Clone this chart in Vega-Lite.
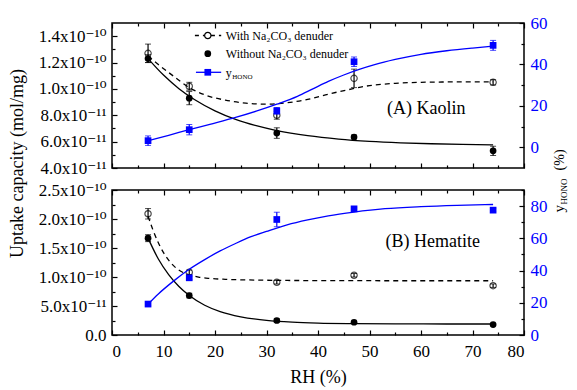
{
  "$schema": "https://vega.github.io/schema/vega-lite/v6.json",
  "padding": {"left": 7, "top": 13, "right": 0, "bottom": 0},
  "spacing": 22,
  "bounds": "flush",
  "config": {
    "font": "'Liberation Serif', 'DejaVu Serif', serif",
    "view": {"stroke": "black", "strokeWidth": 1.5},
    "axis": {"domain": false, "grid": false, "tickColor": "black", "tickWidth": 1.2, "labelColor": "black", "labelFont": "'Liberation Serif', 'DejaVu Serif', serif", "labelFontSize": 17, "titleFont": "'Liberation Serif', 'DejaVu Serif', serif", "titleFontWeight": "normal", "titleFontSize": 18, "titleColor": "black"},
    "text": {"font": "'Liberation Serif', 'DejaVu Serif', serif", "color": "black"}
  },
  "datasets": {
    "kpts": [
      {"rh": 7, "s": "with", "v": 1.27e-10, "lo": 1.20e-10, "hi": 1.34e-10},
      {"rh": 15, "s": "with", "v": 1.02e-10, "lo": 0.99e-10, "hi": 1.05e-10},
      {"rh": 32, "s": "with", "v": 8.0e-11, "lo": 7.7e-11, "hi": 8.3e-11},
      {"rh": 47, "s": "with", "v": 1.08e-10, "lo": 1.01e-10, "hi": 1.15e-10},
      {"rh": 74, "s": "with", "v": 1.05e-10, "lo": 1.03e-10, "hi": 1.07e-10},
      {"rh": 7, "s": "without", "v": 1.23e-10, "lo": 1.20e-10, "hi": 1.26e-10},
      {"rh": 15, "s": "without", "v": 9.3e-11, "lo": 8.8e-11, "hi": 9.8e-11},
      {"rh": 32, "s": "without", "v": 6.65e-11, "lo": 6.25e-11, "hi": 7.05e-11},
      {"rh": 47, "s": "without", "v": 6.35e-11, "lo": 6.2e-11, "hi": 6.5e-11},
      {"rh": 74, "s": "without", "v": 5.3e-11, "lo": 4.95e-11, "hi": 5.65e-11}
    ],
    "kyh": [
      {"rh": 7, "v": 3.2, "lo": 0.9, "hi": 5.5},
      {"rh": 15, "v": 8.5, "lo": 6.0, "hi": 11.0},
      {"rh": 32, "v": 17.6, "lo": 16.0, "hi": 19.2},
      {"rh": 47, "v": 41.3, "lo": 39.0, "hi": 43.6},
      {"rh": 74, "v": 49.2, "lo": 46.8, "hi": 51.6}
    ],
    "kcurve": [
      {"rh": 7, "s": "without", "v": 1.23e-10},
      {"rh": 10, "s": "without", "v": 1.105e-10},
      {"rh": 13, "s": "without", "v": 1.002e-10},
      {"rh": 16, "s": "without", "v": 9.2e-11},
      {"rh": 20, "s": "without", "v": 8.34e-11},
      {"rh": 24, "s": "without", "v": 7.69e-11},
      {"rh": 28, "s": "without", "v": 7.21e-11},
      {"rh": 32, "s": "without", "v": 6.84e-11},
      {"rh": 38, "s": "without", "v": 6.45e-11},
      {"rh": 44, "s": "without", "v": 6.19e-11},
      {"rh": 50, "s": "without", "v": 6.02e-11},
      {"rh": 56, "s": "without", "v": 5.91e-11},
      {"rh": 62, "s": "without", "v": 5.84e-11},
      {"rh": 68, "s": "without", "v": 5.79e-11},
      {"rh": 74, "s": "without", "v": 5.76e-11},
      {"rh": 7, "s": "with", "v": 1.25e-10},
      {"rh": 9, "s": "with", "v": 1.185e-10},
      {"rh": 12, "s": "with", "v": 1.095e-10},
      {"rh": 15, "s": "with", "v": 1.01e-10},
      {"rh": 18, "s": "with", "v": 9.55e-11},
      {"rh": 22, "s": "with", "v": 9.15e-11},
      {"rh": 26, "s": "with", "v": 8.92e-11},
      {"rh": 30, "s": "with", "v": 8.84e-11},
      {"rh": 34, "s": "with", "v": 8.95e-11},
      {"rh": 38, "s": "with", "v": 9.2e-11},
      {"rh": 42, "s": "with", "v": 9.6e-11},
      {"rh": 46, "s": "with", "v": 9.95e-11},
      {"rh": 50, "s": "with", "v": 1.025e-10},
      {"rh": 55, "s": "with", "v": 1.042e-10},
      {"rh": 60, "s": "with", "v": 1.05e-10},
      {"rh": 67, "s": "with", "v": 1.053e-10},
      {"rh": 74, "s": "with", "v": 1.053e-10}
    ],
    "kycurve": [
      {"rh": 7, "v": 3.2}, {"rh": 11, "v": 5.8}, {"rh": 15, "v": 8.5}, {"rh": 19, "v": 11.1},
      {"rh": 24, "v": 14.4}, {"rh": 28, "v": 17.4}, {"rh": 32, "v": 20.8}, {"rh": 36, "v": 24.6},
      {"rh": 39, "v": 28.2}, {"rh": 42, "v": 31.8}, {"rh": 45, "v": 34.9}, {"rh": 48, "v": 37.6},
      {"rh": 51, "v": 39.9}, {"rh": 55, "v": 42.4}, {"rh": 60, "v": 44.9}, {"rh": 65, "v": 46.6},
      {"rh": 70, "v": 47.9}, {"rh": 74, "v": 48.8}
    ],
    "hpts": [
      {"rh": 7, "s": "with", "v": 2.09e-10, "lo": 2.0e-10, "hi": 2.18e-10},
      {"rh": 15, "s": "with", "v": 1.08e-10, "lo": 1.04e-10, "hi": 1.12e-10},
      {"rh": 32, "s": "with", "v": 9.1e-11, "lo": 8.8e-11, "hi": 9.4e-11},
      {"rh": 47, "s": "with", "v": 1.03e-10, "lo": 1.0e-10, "hi": 1.06e-10},
      {"rh": 74, "s": "with", "v": 8.5e-11, "lo": 8.2e-11, "hi": 8.8e-11},
      {"rh": 7, "s": "without", "v": 1.67e-10, "lo": 1.61e-10, "hi": 1.73e-10},
      {"rh": 15, "s": "without", "v": 6.8e-11, "lo": 6.4e-11, "hi": 7.2e-11},
      {"rh": 32, "s": "without", "v": 2.5e-11, "lo": 2.2e-11, "hi": 2.8e-11},
      {"rh": 47, "s": "without", "v": 2.2e-11, "lo": 2.0e-11, "hi": 2.4e-11},
      {"rh": 74, "s": "without", "v": 1.8e-11, "lo": 1.6e-11, "hi": 2.0e-11}
    ],
    "hyh": [
      {"rh": 7, "v": 19.2, "lo": 18.4, "hi": 20.0},
      {"rh": 15, "v": 35.5, "lo": 34.5, "hi": 36.5},
      {"rh": 32, "v": 71.7, "lo": 67.2, "hi": 76.2},
      {"rh": 47, "v": 78.3, "lo": 77.3, "hi": 79.3},
      {"rh": 74, "v": 77.5, "lo": 76.5, "hi": 78.5}
    ],
    "hcurve": [
      {"rh": 7, "s": "without", "v": 1.67e-10},
      {"rh": 9, "s": "without", "v": 1.31e-10},
      {"rh": 11, "s": "without", "v": 1.04e-10},
      {"rh": 13, "s": "without", "v": 8.35e-11},
      {"rh": 15, "s": "without", "v": 6.8e-11},
      {"rh": 18, "s": "without", "v": 5.13e-11},
      {"rh": 21, "s": "without", "v": 4.03e-11},
      {"rh": 25, "s": "without", "v": 3.13e-11},
      {"rh": 30, "s": "without", "v": 2.52e-11},
      {"rh": 35, "s": "without", "v": 2.21e-11},
      {"rh": 40, "s": "without", "v": 2.05e-11},
      {"rh": 47, "s": "without", "v": 1.96e-11},
      {"rh": 55, "s": "without", "v": 1.92e-11},
      {"rh": 65, "s": "without", "v": 1.9e-11},
      {"rh": 74, "s": "without", "v": 1.9e-11},
      {"rh": 7, "s": "with", "v": 2.05e-10},
      {"rh": 8, "s": "with", "v": 1.8e-10},
      {"rh": 9, "s": "with", "v": 1.59e-10},
      {"rh": 10, "s": "with", "v": 1.42e-10},
      {"rh": 11, "s": "with", "v": 1.29e-10},
      {"rh": 12.5, "s": "with", "v": 1.15e-10},
      {"rh": 14, "s": "with", "v": 1.07e-10},
      {"rh": 15.5, "s": "with", "v": 1.025e-10},
      {"rh": 17, "s": "with", "v": 9.95e-11},
      {"rh": 19, "s": "with", "v": 9.75e-11},
      {"rh": 22, "s": "with", "v": 9.6e-11},
      {"rh": 26, "s": "with", "v": 9.5e-11},
      {"rh": 32, "s": "with", "v": 9.42e-11},
      {"rh": 40, "s": "with", "v": 9.38e-11},
      {"rh": 50, "s": "with", "v": 9.36e-11},
      {"rh": 62, "s": "with", "v": 9.35e-11},
      {"rh": 74, "s": "with", "v": 9.35e-11}
    ],
    "hycurve": [
      {"rh": 7, "v": 19.2}, {"rh": 9, "v": 25.5}, {"rh": 12, "v": 33.6}, {"rh": 15, "v": 40.8},
      {"rh": 18, "v": 46.8}, {"rh": 21, "v": 52.2}, {"rh": 24, "v": 56.8}, {"rh": 27, "v": 61.0},
      {"rh": 30, "v": 64.3}, {"rh": 34, "v": 68.4}, {"rh": 38, "v": 71.5}, {"rh": 42, "v": 74.0},
      {"rh": 47, "v": 76.3}, {"rh": 53, "v": 78.4}, {"rh": 60, "v": 79.7}, {"rh": 67, "v": 80.5},
      {"rh": 74, "v": 81.0}
    ]
  },
  "vconcat": [
    {
      "width": 412, "height": 145,
      "resolve": {"scale": {"y": "independent"}, "axis": {"x": "independent", "y": "independent"}},
      "layer": [
        {
          "resolve": {"axis": {"x": "independent", "y": "independent"}},
          "layer": [
            {
              "data": {"name": "kcurve"},
              "transform": [{"filter": "datum.s == 'with'"}],
              "mark": {"type": "line", "color": "black", "strokeWidth": 1.3, "strokeDash": [5, 4], "interpolate": "monotone"},
              "encoding": {
                "x": {"field": "rh", "type": "quantitative", "scale": {"domain": [0, 80], "nice": false},
                  "axis": {"orient": "bottom", "values": [0, 10, 20, 30, 40, 50, 60, 70, 80], "labels": false, "tickSize": -5, "title": null}},
                "y": {"field": "v", "type": "quantitative", "scale": {"domain": [4e-11, 1.5e-10], "nice": false, "zero": false},
                  "axis": {"orient": "left", "values": [4e-11, 6e-11, 8e-11, 1e-10, 1.2e-10, 1.4e-10], "tickSize": -5, "labelPadding": 11,
                    "labelExpr": "datum.value < 1e-12 ? '0.0' : (datum.value >= 9.9e-11 ? format(datum.value * 1e10, '.1f') + 'x10⁻¹⁰' : format(datum.value * 1e11, '.1f') + 'x10⁻¹¹')",
                    "title": "Uptake capacity (mol/mg)", "titleAngle": 270, "titleX": -90, "titleY": 140, "titleAlign": "center", "titleBaseline": "alphabetic"}}
              }
            },
            {
              "data": {"name": "kcurve"},
              "transform": [{"filter": "datum.s == 'without'"}],
              "mark": {"type": "line", "color": "black", "strokeWidth": 1.3, "interpolate": "monotone"},
              "encoding": {
                "x": {"field": "rh", "type": "quantitative", "scale": {"domain": [0, 80], "nice": false},
                  "axis": {"orient": "bottom", "values": [5, 15, 25, 35, 45, 55, 65, 75], "labels": false, "tickSize": -3, "title": null}},
                "y": {"field": "v", "type": "quantitative",
                  "axis": {"orient": "left", "values": [5e-11, 7e-11, 9e-11, 1.1e-10, 1.3e-10], "labels": false, "tickSize": -3, "title": null}}
              }
            },
            {
              "data": {"name": "kpts"},
              "mark": {"type": "errorbar", "color": "black", "ticks": {"size": 6, "strokeWidth": 1.2}, "rule": {"strokeWidth": 1.2}},
              "encoding": {
                "x": {"field": "rh", "type": "quantitative", "axis": null},
                "y": {"field": "lo", "type": "quantitative", "axis": null},
                "y2": {"field": "hi"}
              }
            },
            {
              "data": {"name": "kpts"},
              "transform": [{"filter": "datum.s == 'with'"}],
              "mark": {"type": "point", "shape": "circle", "filled": false, "color": "black", "strokeWidth": 1.2, "size": 40},
              "encoding": {
                "x": {"field": "rh", "type": "quantitative",
                  "axis": {"orient": "top", "values": [0, 10, 20, 30, 40, 50, 60, 70, 80], "labels": false, "tickSize": -5, "title": null}},
                "y": {"field": "v", "type": "quantitative", "axis": null}
              }
            },
            {
              "data": {"name": "kpts"},
              "transform": [{"filter": "datum.s == 'without'"}],
              "mark": {"type": "point", "shape": "circle", "filled": true, "color": "black", "opacity": 1, "size": 45},
              "encoding": {
                "x": {"field": "rh", "type": "quantitative",
                  "axis": {"orient": "top", "values": [5, 15, 25, 35, 45, 55, 65, 75], "labels": false, "tickSize": -3, "title": null}},
                "y": {"field": "v", "type": "quantitative", "axis": null}
              }
            },
            {
              "data": {"values": [{}]},
              "mark": {"type": "rule", "color": "black", "strokeWidth": 1.3, "strokeDash": [4, 4]},
              "encoding": {"x": {"datum": 16.1, "axis": null}, "x2": {"datum": 21.2}, "y": {"datum": 1.405e-10, "axis": null}}
            },
            {
              "data": {"values": [{}]},
              "mark": {"type": "point", "shape": "circle", "filled": true, "fill": "white", "stroke": "black", "strokeWidth": 1.2, "opacity": 1, "size": 40},
              "encoding": {"x": {"datum": 18.6, "axis": null}, "y": {"datum": 1.405e-10, "axis": null}}
            },
            {
              "data": {"values": [{}]},
              "mark": {"type": "point", "shape": "circle", "filled": true, "color": "black", "opacity": 1, "size": 45},
              "encoding": {"x": {"datum": 18.6, "axis": null}, "y": {"datum": 1.267e-10, "axis": null}}
            },
            {
              "data": {"values": [{"t": "With Na₂CO₃ denuder", "yy": 1.405e-10}, {"t": "Without Na₂CO₃ denuder", "yy": 1.267e-10}, {"t": "y", "yy": 1.123e-10}]},
              "mark": {"type": "text", "align": "left", "baseline": "middle", "fontSize": 12},
              "encoding": {"x": {"datum": 22.1, "axis": null}, "y": {"field": "yy", "type": "quantitative", "axis": null}, "text": {"field": "t"}}
            },
            {
              "data": {"values": [{"t": "HONO"}]},
              "mark": {"type": "text", "align": "left", "baseline": "middle", "fontSize": 7, "dx": 6.5, "dy": 4},
              "encoding": {"x": {"datum": 22.1, "axis": null}, "y": {"datum": 1.123e-10, "axis": null}, "text": {"field": "t"}}
            },
            {
              "data": {"values": [{"t": "(A) Kaolin"}]},
              "mark": {"type": "text", "align": "center", "baseline": "middle", "fontSize": 18},
              "encoding": {"x": {"datum": 61, "axis": null}, "y": {"datum": 8.45e-11, "axis": null}, "text": {"field": "t"}}
            }
          ]
        },
        {
          "resolve": {"axis": {"x": "independent", "y": "independent"}},
          "layer": [
            {
              "data": {"name": "kycurve"},
              "mark": {"type": "line", "color": "#0000ff", "strokeWidth": 1.3, "interpolate": "monotone"},
              "encoding": {
                "x": {"field": "rh", "type": "quantitative", "axis": null},
                "y": {"field": "v", "type": "quantitative", "scale": {"domain": [-10, 60], "nice": false, "zero": false},
                  "axis": {"orient": "right", "values": [0, 20, 40, 60], "tickSize": -5, "labelPadding": 11, "labelColor": "#0000ff", "labelFontSize": 17, "title": null}}
              }
            },
            {
              "data": {"name": "kyh"},
              "mark": {"type": "errorbar", "color": "#0000ff", "ticks": {"size": 6, "strokeWidth": 1.2}, "rule": {"strokeWidth": 1.2}},
              "encoding": {
                "x": {"field": "rh", "type": "quantitative", "axis": null},
                "y": {"field": "lo", "type": "quantitative", "axis": null},
                "y2": {"field": "hi"}
              }
            },
            {
              "data": {"name": "kyh"},
              "mark": {"type": "point", "shape": "square", "filled": true, "color": "#0000ff", "opacity": 1, "size": 45},
              "encoding": {
                "x": {"field": "rh", "type": "quantitative", "axis": null},
                "y": {"field": "v", "type": "quantitative",
                  "axis": {"orient": "right", "values": [10, 30, 50], "labels": false, "tickSize": -3, "title": null}}
              }
            },
            {
              "data": {"values": [{}]},
              "mark": {"type": "rule", "color": "#0000ff", "strokeWidth": 1.3},
              "encoding": {"x": {"datum": 16.3, "axis": null}, "x2": {"datum": 21.2}, "y": {"datum": 36.2, "axis": null}}
            },
            {
              "data": {"values": [{}]},
              "mark": {"type": "point", "shape": "square", "filled": true, "color": "#0000ff", "opacity": 1, "size": 45},
              "encoding": {"x": {"datum": 18.6, "axis": null}, "y": {"datum": 36.2, "axis": null}}
            }
          ]
        }
      ]
    },
    {
      "width": 412, "height": 145,
      "resolve": {"scale": {"y": "independent"}, "axis": {"x": "independent", "y": "independent"}},
      "layer": [
        {
          "resolve": {"axis": {"x": "independent", "y": "independent"}},
          "layer": [
            {
              "data": {"name": "hcurve"},
              "transform": [{"filter": "datum.s == 'with'"}],
              "mark": {"type": "line", "color": "black", "strokeWidth": 1.3, "strokeDash": [5, 4], "interpolate": "monotone"},
              "encoding": {
                "x": {"field": "rh", "type": "quantitative", "scale": {"domain": [0, 80], "nice": false},
                  "axis": {"orient": "bottom", "values": [0, 10, 20, 30, 40, 50, 60, 70, 80], "labels": true, "labelFontSize": 17, "labelPadding": 13, "tickSize": -5,
                    "title": "RH (%)", "titleY": 47, "titleBaseline": "alphabetic", "titleFontSize": 18}},
                "y": {"field": "v", "type": "quantitative", "scale": {"domain": [0, 2.5e-10], "nice": false, "zero": false},
                  "axis": {"orient": "left", "values": [0, 5e-11, 1e-10, 1.5e-10, 2e-10, 2.5e-10], "tickSize": -5, "labelPadding": 11,
                    "labelExpr": "datum.value < 1e-12 ? '0.0' : (datum.value >= 9.9e-11 ? format(datum.value * 1e10, '.1f') + 'x10⁻¹⁰' : format(datum.value * 1e11, '.1f') + 'x10⁻¹¹')",
                    "title": null}}
              }
            },
            {
              "data": {"name": "hcurve"},
              "transform": [{"filter": "datum.s == 'without'"}],
              "mark": {"type": "line", "color": "black", "strokeWidth": 1.3, "interpolate": "monotone"},
              "encoding": {
                "x": {"field": "rh", "type": "quantitative", "scale": {"domain": [0, 80], "nice": false},
                  "axis": {"orient": "bottom", "values": [5, 15, 25, 35, 45, 55, 65, 75], "labels": false, "tickSize": -3, "title": null}},
                "y": {"field": "v", "type": "quantitative",
                  "axis": {"orient": "left", "values": [2.5e-11, 7.5e-11, 1.25e-10, 1.75e-10, 2.25e-10], "labels": false, "tickSize": -3, "title": null}}
              }
            },
            {
              "data": {"name": "hpts"},
              "mark": {"type": "errorbar", "color": "black", "ticks": {"size": 6, "strokeWidth": 1.2}, "rule": {"strokeWidth": 1.2}},
              "encoding": {
                "x": {"field": "rh", "type": "quantitative", "axis": null},
                "y": {"field": "lo", "type": "quantitative", "axis": null},
                "y2": {"field": "hi"}
              }
            },
            {
              "data": {"name": "hpts"},
              "transform": [{"filter": "datum.s == 'with'"}],
              "mark": {"type": "point", "shape": "circle", "filled": false, "color": "black", "strokeWidth": 1.2, "size": 40},
              "encoding": {
                "x": {"field": "rh", "type": "quantitative",
                  "axis": {"orient": "top", "values": [0, 10, 20, 30, 40, 50, 60, 70, 80], "labels": false, "tickSize": -5, "title": null}},
                "y": {"field": "v", "type": "quantitative", "axis": null}
              }
            },
            {
              "data": {"name": "hpts"},
              "transform": [{"filter": "datum.s == 'without'"}],
              "mark": {"type": "point", "shape": "circle", "filled": true, "color": "black", "opacity": 1, "size": 45},
              "encoding": {
                "x": {"field": "rh", "type": "quantitative",
                  "axis": {"orient": "top", "values": [5, 15, 25, 35, 45, 55, 65, 75], "labels": false, "tickSize": -3, "title": null}},
                "y": {"field": "v", "type": "quantitative", "axis": null}
              }
            },
            {
              "data": {"values": [{"t": "(B) Hematite"}]},
              "mark": {"type": "text", "align": "center", "baseline": "middle", "fontSize": 18},
              "encoding": {"x": {"datum": 62.3, "axis": null}, "y": {"datum": 1.6e-10, "axis": null}, "text": {"field": "t"}}
            }
          ]
        },
        {
          "resolve": {"axis": {"x": "independent", "y": "independent"}},
          "layer": [
            {
              "data": {"name": "hycurve"},
              "mark": {"type": "line", "color": "#0000ff", "strokeWidth": 1.3, "interpolate": "monotone"},
              "encoding": {
                "x": {"field": "rh", "type": "quantitative", "axis": null},
                "y": {"field": "v", "type": "quantitative", "scale": {"domain": [0, 90], "nice": false, "zero": false},
                  "axis": {"orient": "right", "values": [0, 20, 40, 60, 80], "tickSize": -5, "labelPadding": 11, "labelColor": "#0000ff", "labelFontSize": 17, "title": null}}
              }
            },
            {
              "data": {"name": "hyh"},
              "mark": {"type": "errorbar", "color": "#0000ff", "ticks": {"size": 6, "strokeWidth": 1.2}, "rule": {"strokeWidth": 1.2}},
              "encoding": {
                "x": {"field": "rh", "type": "quantitative", "axis": null},
                "y": {"field": "lo", "type": "quantitative", "axis": null},
                "y2": {"field": "hi"}
              }
            },
            {
              "data": {"name": "hyh"},
              "mark": {"type": "point", "shape": "square", "filled": true, "color": "#0000ff", "opacity": 1, "size": 45},
              "encoding": {
                "x": {"field": "rh", "type": "quantitative", "axis": null},
                "y": {"field": "v", "type": "quantitative",
                  "axis": {"orient": "right", "values": [10, 30, 50, 70, 90], "labels": false, "tickSize": -3, "title": null}}
              }
            },
            {
              "data": {"values": [{"t": "y"}]},
              "mark": {"type": "text", "align": "left", "baseline": "alphabetic", "angle": 270, "fontSize": 15},
              "encoding": {"x": {"datum": 87.8, "axis": null}, "y": {"datum": 76.1, "axis": null}, "text": {"field": "t"}}
            },
            {
              "data": {"values": [{"t": "HONO"}]},
              "mark": {"type": "text", "align": "left", "baseline": "alphabetic", "angle": 270, "fontSize": 9, "dx": 8, "dy": 3},
              "encoding": {"x": {"datum": 87.8, "axis": null}, "y": {"datum": 76.1, "axis": null}, "text": {"field": "t"}}
            },
            {
              "data": {"values": [{"t": "(%)"}]},
              "mark": {"type": "text", "align": "left", "baseline": "alphabetic", "angle": 270, "fontSize": 14, "dx": 42},
              "encoding": {"x": {"datum": 87.8, "axis": null}, "y": {"datum": 76.1, "axis": null}, "text": {"field": "t"}}
            }
          ]
        }
      ]
    }
  ]
}
